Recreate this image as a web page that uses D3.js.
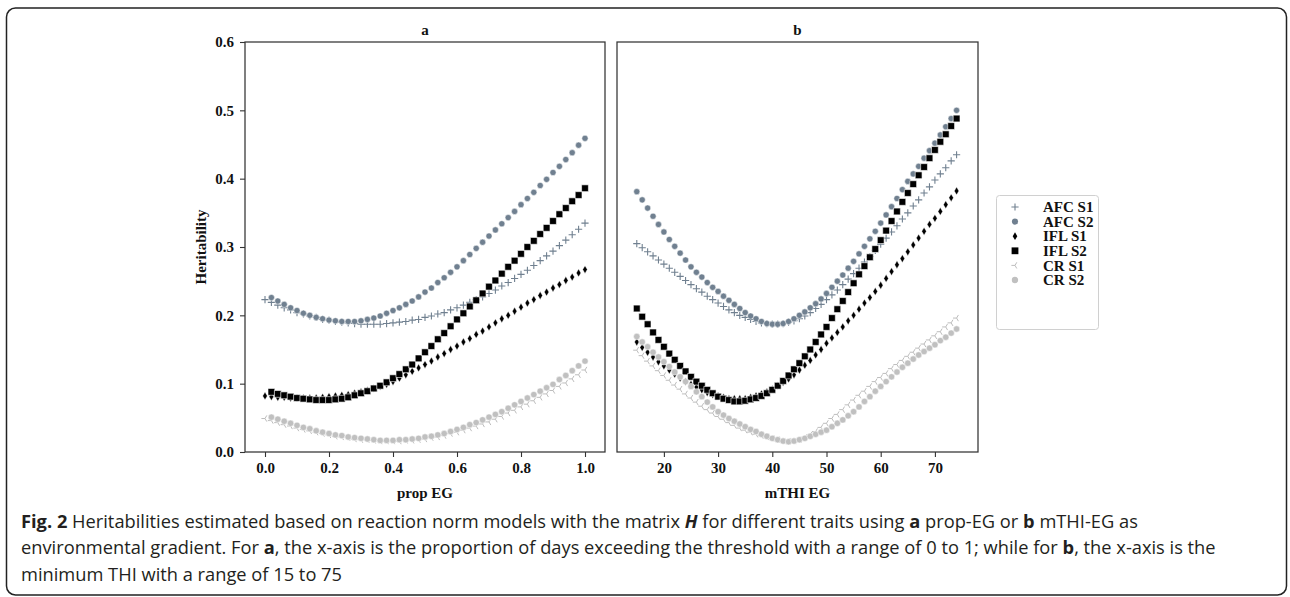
<!DOCTYPE html>
<html>
<head>
<meta charset="utf-8">
<script src="https://cdn.jsdelivr.net/npm/d3@7"></script>
<style>
  body { margin: 0; background: #fff; }
  svg { display: block; }
</style>
</head>
<body>
<div id="chart"></div>
<script>
// ---- data ----
var seriesNames = ["AFC S1", "AFC S2", "IFL S1", "IFL S2", "CR S1", "CR S2"];

// panel a : proportion of days exceeding the threshold
var propX1 = [0, 0.02, 0.04, 0.06, 0.08, 0.10, 0.12, 0.14, 0.16, 0.18, 0.20, 0.22, 0.24, 0.26, 0.28, 0.30, 0.32, 0.34, 0.36, 0.38, 0.40, 0.42, 0.44, 0.46, 0.48, 0.50, 0.52, 0.54, 0.56, 0.58, 0.60, 0.62, 0.64, 0.66, 0.68, 0.70, 0.72, 0.74, 0.76, 0.78, 0.80, 0.82, 0.84, 0.86, 0.88, 0.90, 0.92, 0.94, 0.96, 0.98, 1.00];
var propX2 = [0.02, 0.04, 0.06, 0.08, 0.10, 0.12, 0.14, 0.16, 0.18, 0.20, 0.22, 0.24, 0.26, 0.28, 0.30, 0.32, 0.34, 0.36, 0.38, 0.40, 0.42, 0.44, 0.46, 0.48, 0.50, 0.52, 0.54, 0.56, 0.58, 0.60, 0.62, 0.64, 0.66, 0.68, 0.70, 0.72, 0.74, 0.76, 0.78, 0.80, 0.82, 0.84, 0.86, 0.88, 0.90, 0.92, 0.94, 0.96, 0.98, 1.00];

var propAFC1 = [.223,.219,.215,.211,.208,.204,.202,.199,.197,.194,.193,.191,.190,.189,.188,.187,.187,.187,.187,.188,.189,.190,.191,.193,.194,.197,.199,.202,.204,.208,.211,.215,.219,.223,.227,.232,.237,.243,.248,.254,.260,.266,.273,.280,.287,.294,.302,.310,.318,.326,.335];
var propAFC2 = [.226,.221,.216,.211,.207,.203,.200,.197,.195,.193,.192,.191,.191,.191,.192,.194,.196,.199,.203,.207,.211,.216,.221,.227,.234,.240,.248,.255,.263,.271,.280,.289,.298,.307,.316,.325,.334,.343,.352,.362,.371,.380,.390,.399,.409,.418,.428,.438,.449,.459];
var propIFL1 = [.082,.081,.080,.080,.079,.079,.079,.079,.079,.080,.081,.082,.083,.084,.086,.088,.090,.093,.096,.099,.103,.108,.113,.118,.123,.128,.133,.139,.144,.150,.155,.161,.166,.172,.177,.183,.189,.195,.200,.206,.212,.218,.223,.229,.234,.240,.245,.251,.256,.262,.267];
var propIFL2 = [.088,.085,.083,.081,.079,.078,.077,.076,.076,.076,.077,.078,.080,.083,.086,.089,.093,.097,.102,.108,.114,.121,.128,.137,.146,.155,.165,.174,.184,.194,.203,.213,.222,.232,.242,.251,.261,.271,.280,.290,.300,.309,.319,.328,.338,.348,.357,.367,.376,.386];
var propCR1 = [.049,.046,.043,.040,.038,.035,.033,.031,.029,.027,.025,.023,.022,.021,.019,.018,.018,.017,.016,.016,.016,.016,.017,.017,.018,.019,.021,.022,.024,.027,.029,.032,.035,.038,.041,.044,.048,.052,.057,.061,.066,.070,.075,.080,.085,.090,.096,.101,.107,.113,.120];
var propCR2 = [.051,.048,.045,.042,.039,.036,.034,.031,.029,.027,.025,.024,.022,.021,.020,.019,.018,.017,.017,.017,.018,.018,.019,.020,.022,.023,.025,.027,.030,.033,.036,.040,.043,.047,.051,.055,.059,.064,.069,.074,.079,.084,.089,.094,.099,.106,.112,.119,.126,.133];

// panel b : minimum THI
var thiX = [15, 16, 17, 18, 19, 20, 21, 22, 23, 24, 25, 26, 27, 28, 29, 30, 31, 32, 33, 34, 35, 36, 37, 38, 39, 40, 41, 42, 43, 44, 45, 46, 47, 48, 49, 50, 51, 52, 53, 54, 55, 56, 57, 58, 59, 60, 61, 62, 63, 64, 65, 66, 67, 68, 69, 70, 71, 72, 73, 74];

var thiAFC1 = [.305,.299,.293,.287,.281,.275,.269,.263,.257,.251,.245,.239,.234,.228,.223,.218,.213,.208,.204,.200,.197,.194,.191,.189,.188,.187,.187,.188,.190,.192,.195,.199,.204,.210,.216,.223,.230,.237,.245,.253,.261,.269,.278,.286,.295,.304,.313,.322,.331,.341,.350,.360,.369,.379,.388,.398,.407,.416,.426,.435];
var thiAFC2 = [.381,.369,.357,.345,.333,.322,.311,.301,.291,.281,.271,.263,.256,.248,.241,.235,.228,.222,.216,.210,.204,.199,.195,.191,.188,.187,.187,.188,.191,.195,.200,.205,.211,.217,.224,.232,.241,.250,.259,.269,.279,.290,.301,.312,.323,.335,.347,.359,.371,.384,.396,.407,.418,.430,.441,.452,.464,.476,.488,.500];
var thiIFL1 = [.161,.153,.146,.139,.132,.126,.120,.114,.108,.103,.099,.095,.091,.087,.084,.082,.080,.078,.078,.078,.078,.080,.082,.085,.088,.092,.097,.102,.107,.113,.120,.127,.134,.142,.150,.159,.167,.175,.183,.192,.200,.209,.218,.226,.235,.244,.254,.264,.274,.283,.293,.303,.313,.323,.333,.342,.352,.362,.372,.382];
var thiIFL2 = [.210,.198,.187,.175,.164,.154,.144,.135,.126,.118,.110,.103,.097,.091,.086,.081,.078,.076,.074,.074,.075,.077,.079,.082,.086,.091,.097,.104,.112,.121,.130,.140,.150,.161,.172,.183,.196,.209,.221,.234,.247,.260,.272,.285,.297,.310,.324,.338,.352,.366,.379,.392,.405,.417,.430,.442,.454,.465,.477,.488];
var thiCR1 = [.149,.141,.133,.126,.119,.112,.105,.098,.092,.085,.079,.073,.067,.062,.057,.052,.048,.043,.039,.035,.032,.029,.026,.024,.022,.020,.018,.016,.016,.016,.018,.021,.025,.030,.036,.042,.049,.055,.062,.069,.076,.083,.089,.096,.103,.109,.115,.122,.128,.134,.140,.146,.152,.158,.164,.170,.176,.183,.189,.196];
var thiCR2 = [.169,.161,.154,.146,.139,.132,.125,.117,.110,.103,.096,.088,.081,.073,.066,.059,.054,.049,.045,.041,.037,.033,.030,.026,.023,.020,.018,.016,.015,.016,.018,.020,.023,.026,.029,.032,.037,.042,.047,.053,.059,.066,.074,.081,.089,.096,.103,.110,.117,.124,.130,.136,.142,.147,.152,.157,.163,.168,.174,.180];

var yTicks = [0.0, 0.1, 0.2, 0.3, 0.4, 0.5, 0.6];
var propTicks = [0.0, 0.2, 0.4, 0.6, 0.8, 1.0];
var thiTicks = [20, 30, 40, 50, 60, 70];

// ---- marker shapes ----
var markerPaths = {
	plus: "M-3.6,0H3.6M0,-3.6V3.6",
	circle: "M3.1,0A3.1,3.1 0 1,1 -3.1,0A3.1,3.1 0 1,1 3.1,0Z",
	thinDiamond: "M0,-3.9L2.3,0L0,3.9L-2.3,0Z",
	square: "M-3.4,-3.4H3.4V3.4H-3.4Z",
	triLeft: "M0,0L-3.6,0M0,0L1.8,-3.1M0,0L1.8,3.1",
	hexagon: "M3.2,0A3.2,3.2 0 1,1 -3.2,0A3.2,3.2 0 1,1 3.2,0Z"
};

var styles = [
	{shape: "plus", fill: "none", stroke: "#708090", sw: 1.1},
	{shape: "circle", fill: "#708090", stroke: "#fff", sw: 0.5},
	{shape: "thinDiamond", fill: "#000", stroke: "#fff", sw: 0.4},
	{shape: "square", fill: "#000", stroke: "#fff", sw: 0.6},
	{shape: "triLeft", fill: "none", stroke: "#bdbdbd", sw: 1},
	{shape: "hexagon", fill: "#c0c0c0", stroke: "#fff", sw: 0.5}
];

function drawChart(id, options) {
	var cfg = {
		w: 1290,
		h: 597,
		font: "'Liberation Serif', 'Times New Roman', serif",
		fontSize: 15,
		spine: "#333"
	};
	if ('undefined' !== typeof options) {
		for (var i in options) { if ('undefined' !== typeof options[i]) { cfg[i] = options[i]; } }
	}

	d3.select(id).select("svg").remove();
	var svg = d3.select(id).append("svg")
		.attr("width", cfg.w)
		.attr("height", cfg.h);

	// outer figure frame
	svg.append("rect")
		.attr("x", 6.5).attr("y", 8)
		.attr("width", 1280).attr("height", 587)
		.attr("rx", 9).attr("ry", 9)
		.attr("fill", "none")
		.attr("stroke", "#222")
		.attr("stroke-width", 1.5);

	var top = 42, bottom = 452;
	var y = d3.scaleLinear().domain([0, 0.6]).range([bottom, top]);

	var panels = [
		{title: "a", label: "prop EG", left: 245, right: 605, domain: [-0.0625, 1.0625], ticks: propTicks, fmt: d3.format(".1f"),
		 xs: [propX1, propX2, propX1, propX2, propX1, propX2],
		 ys: [propAFC1, propAFC2, propIFL1, propIFL2, propCR1, propCR2]},
		{title: "b", label: "mTHI EG", left: 617, right: 978, domain: [11.35, 77.95], ticks: thiTicks, fmt: d3.format("d"),
		 xs: [thiX, thiX, thiX, thiX, thiX, thiX],
		 ys: [thiAFC1, thiAFC2, thiIFL1, thiIFL2, thiCR1, thiCR2]}
	];

	panels.forEach(function(p, pi) {
		var x = d3.scaleLinear().domain(p.domain).range([p.left, p.right]);
		var g = svg.append("g");

		// series, drawn in legend order
		styles.forEach(function(st, si) {
			var pts = p.xs[si].map(function(v, k) { return {x: v, y: p.ys[si][k]}; });
			g.append("g").selectAll("path")
				.data(pts)
				.join("path")
				.attr("transform", function(d) { return "translate(" + x(d.x) + "," + y(d.y) + ")"; })
				.attr("d", markerPaths[st.shape])
				.attr("fill", st.fill)
				.attr("stroke", st.stroke)
				.attr("stroke-width", st.sw);
		});

		// box
		g.append("rect")
			.attr("x", p.left).attr("y", top)
			.attr("width", p.right - p.left).attr("height", bottom - top)
			.attr("fill", "none")
			.attr("stroke", cfg.spine)
			.attr("stroke-width", 1.25);

		// x axis
		var xAxis = g.append("g")
			.attr("transform", "translate(0," + bottom + ")")
			.call(d3.axisBottom(x).tickValues(p.ticks).tickFormat(p.fmt).tickSize(5).tickPadding(5));
		xAxis.select(".domain").remove();

		// y axis only on the first panel
		if (pi === 0) {
			var yAxis = g.append("g")
				.attr("transform", "translate(" + p.left + ",0)")
				.call(d3.axisLeft(y).tickValues(yTicks).tickFormat(d3.format(".1f")).tickSize(5).tickPadding(6));
			yAxis.select(".domain").remove();

			g.append("text")
				.attr("transform", "translate(201," + ((top + bottom) / 2) + ") rotate(-90)")
				.attr("text-anchor", "middle")
				.attr("dy", "0.35em")
				.text("Heritability");
		}

		g.append("text")
			.attr("x", (p.left + p.right) / 2)
			.attr("y", 35)
			.attr("text-anchor", "middle")
			.text(p.title);

		g.append("text")
			.attr("x", (p.left + p.right) / 2)
			.attr("y", 498)
			.attr("text-anchor", "middle")
			.text(p.label);
	});

	svg.selectAll(".tick line").attr("stroke", cfg.spine).attr("stroke-width", 1.1);
	svg.selectAll("text")
		.attr("font-family", cfg.font)
		.attr("font-weight", "bold")
		.attr("font-size", cfg.fontSize)
		.attr("fill", "#111");

	// legend
	var legend = svg.append("g");
	legend.append("rect")
		.attr("x", 996.5).attr("y", 195.5)
		.attr("width", 102).attr("height", 134)
		.attr("rx", 3)
		.attr("fill", "#fff")
		.attr("stroke", "#d0d0d0");
	var row = d3.scaleLinear().domain([0, 5]).range([207, 280]);
	seriesNames.forEach(function(name, si) {
		var st = styles[si];
		legend.append("path")
			.attr("transform", "translate(1015," + row(si) + ")")
			.attr("d", markerPaths[st.shape])
			.attr("fill", st.fill)
			.attr("stroke", st.stroke === "#fff" ? "none" : st.stroke)
			.attr("stroke-width", st.sw);
		legend.append("text")
			.attr("x", 1043)
			.attr("y", row(si))
			.attr("dy", "0.35em")
			.attr("font-family", cfg.font)
			.attr("font-weight", "bold")
			.attr("font-size", cfg.fontSize)
			.attr("fill", "#111")
			.text(name);
	});

	// caption
	var caption = [
		[["Fig. 2", "b"], [" Heritabilities estimated based on reaction norm models with the matrix ", ""], ["H", "bi"], [" for different traits using ", ""], ["a", "b"], [" prop-EG or ", ""], ["b", "b"], [" mTHI-EG as", ""]],
		[["environmental gradient. For ", ""], ["a", "b"], [", the x-axis is the proportion of days exceeding the threshold with a range of 0 to 1; while for ", ""], ["b", "b"], [", the x-axis is the", ""]],
		[["minimum THI with a range of 15 to 75", ""]]
	];
	var capG = svg.append("g");
	var lines = caption.map(function(parts, li) {
		var t = capG.append("text")
			.attr("x", 0)
			.attr("y", 528 + li * 26.5)
			.attr("font-family", "'Open Sans', 'Noto Sans', sans-serif")
			.attr("font-size", 18.5)
			.attr("fill", "#231f20");
		parts.forEach(function(pt) {
			t.append("tspan")
				.attr("font-weight", pt[1].indexOf("b") >= 0 ? "bold" : "normal")
				.attr("font-style", pt[1].indexOf("i") >= 0 ? "italic" : "normal")
				.text(pt[0]);
		});
		return t;
	});
	// squeeze to the width of the original first line
	var w1 = lines[0].node().getComputedTextLength();
	var sx = 1118 / w1;
	capG.attr("transform", "translate(21,0) scale(" + sx + ",1)");
}

drawChart("#chart");
</script>
</body>
</html>
